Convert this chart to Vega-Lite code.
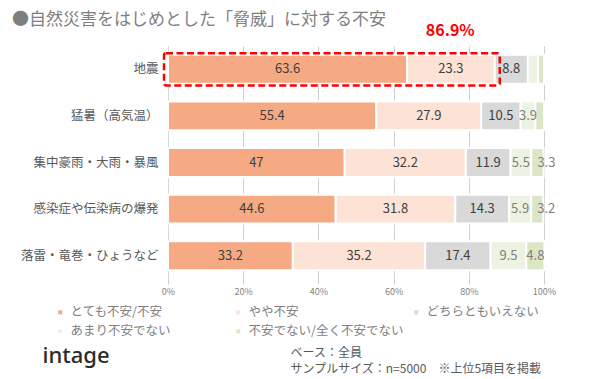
{
  "$schema": "https://vega.github.io/schema/vega-lite/v6.json",
  "width": 376,
  "height": 233,
  "autosize": "none",
  "padding": {"left": 168, "top": 46, "right": 46, "bottom": 100},
  "background": "white",
  "config": {"font": "Noto Sans CJK JP", "view": {"stroke": null}},
  "title": {
    "text": "●自然災害をはじめとした「脅威」に対する不安",
    "anchor": "start",
    "frame": "group",
    "dx": -156,
    "dy": 18,
    "offset": 4,
    "baseline": "middle",
    "fontSize": 17,
    "fontWeight": "normal",
    "color": "#7f7f7f",
    "font": "Noto Sans CJK JP"
  },
  "datasets": {
    "survey": [
      {"cat": "地震", "resp": "とても不安/不安", "order": 1, "value": 63.6},
      {"cat": "地震", "resp": "やや不安", "order": 2, "value": 23.3},
      {"cat": "地震", "resp": "どちらともいえない", "order": 3, "value": 8.8},
      {"cat": "地震", "resp": "あまり不安でない", "order": 4, "value": 2.7},
      {"cat": "地震", "resp": "不安でない/全く不安でない", "order": 5, "value": 1.6},
      {"cat": "猛暑（高気温）", "resp": "とても不安/不安", "order": 1, "value": 55.4},
      {"cat": "猛暑（高気温）", "resp": "やや不安", "order": 2, "value": 27.9},
      {"cat": "猛暑（高気温）", "resp": "どちらともいえない", "order": 3, "value": 10.5},
      {"cat": "猛暑（高気温）", "resp": "あまり不安でない", "order": 4, "value": 3.9},
      {"cat": "猛暑（高気温）", "resp": "不安でない/全く不安でない", "order": 5, "value": 2.3},
      {"cat": "集中豪雨・大雨・暴風", "resp": "とても不安/不安", "order": 1, "value": 47},
      {"cat": "集中豪雨・大雨・暴風", "resp": "やや不安", "order": 2, "value": 32.2},
      {"cat": "集中豪雨・大雨・暴風", "resp": "どちらともいえない", "order": 3, "value": 11.9},
      {"cat": "集中豪雨・大雨・暴風", "resp": "あまり不安でない", "order": 4, "value": 5.5},
      {"cat": "集中豪雨・大雨・暴風", "resp": "不安でない/全く不安でない", "order": 5, "value": 3.3},
      {"cat": "感染症や伝染病の爆発", "resp": "とても不安/不安", "order": 1, "value": 44.6},
      {"cat": "感染症や伝染病の爆発", "resp": "やや不安", "order": 2, "value": 31.8},
      {"cat": "感染症や伝染病の爆発", "resp": "どちらともいえない", "order": 3, "value": 14.3},
      {"cat": "感染症や伝染病の爆発", "resp": "あまり不安でない", "order": 4, "value": 5.9},
      {"cat": "感染症や伝染病の爆発", "resp": "不安でない/全く不安でない", "order": 5, "value": 3.2},
      {"cat": "落雷・竜巻・ひょうなど", "resp": "とても不安/不安", "order": 1, "value": 33.2},
      {"cat": "落雷・竜巻・ひょうなど", "resp": "やや不安", "order": 2, "value": 35.2},
      {"cat": "落雷・竜巻・ひょうなど", "resp": "どちらともいえない", "order": 3, "value": 17.4},
      {"cat": "落雷・竜巻・ひょうなど", "resp": "あまり不安でない", "order": 4, "value": 9.5},
      {"cat": "落雷・竜巻・ひょうなど", "resp": "不安でない/全く不安でない", "order": 5, "value": 4.8}
    ],
    "highlight": [
      {"cat": "地震", "start": 0, "end": 86.9, "label": "86.9%"}
    ]
  },
  "encoding": {
    "y": {
      "field": "cat",
      "type": "nominal",
      "scale": {
        "domain": ["地震", "猛暑（高気温）", "集中豪雨・大雨・暴風", "感染症や伝染病の爆発", "落雷・竜巻・ひょうなど"],
        "paddingInner": 0,
        "paddingOuter": 0
      },
      "axis": {
        "labelFontSize": 12.5,
        "labelColor": "#595959",
        "labelPadding": 10,
        "ticks": false,
        "domain": true,
        "domainColor": "#d9d9d9",
        "title": "intage",
        "titleX": -126,
        "titleY": 309,
        "titleAngle": 0,
        "titleAlign": "left",
        "titleBaseline": "middle",
        "titleFontSize": 22,
        "titleFontWeight": 500,
        "titleColor": "#2b2b2b",
        "titleFont": "Noto Sans"
      }
    }
  },
  "layer": [
    {
      "data": {"name": "survey"},
      "transform": [
        {"stack": "value", "groupby": ["cat"], "sort": [{"field": "order"}], "as": ["x0", "x1"]}
      ],
      "mark": {"type": "bar", "height": {"band": 0.62}, "stroke": "white", "strokeWidth": 2},
      "encoding": {
        "x": {
          "field": "x0",
          "type": "quantitative",
          "scale": {"domain": [0, 100], "nice": false},
          "axis": {
            "values": [0, 20, 40, 60, 80, 100],
            "labelExpr": "datum.value + '%'",
            "labelFlush": false,
            "grid": true,
            "gridColor": "#d0d0d0",
            "domain": false,
            "ticks": true,
            "tickColor": "#d0d0d0",
            "tickSize": 5,
            "labelFontSize": 9,
            "labelColor": "#7f7f7f",
            "labelPadding": 3,
            "title": ["ベース：全員", "サンプルサイズ：n=5000　※上位5項目を掲載"],
            "titleX": 122,
            "titleY": 68,
            "titleAlign": "left",
            "titleBaseline": "top",
            "titleFontSize": 12,
            "titleFontWeight": "normal",
            "titleColor": "#595959",
            "titleLineHeight": 16
          }
        },
        "x2": {"field": "x1"},
        "color": {
          "field": "resp",
          "type": "nominal",
          "scale": {
            "domain": ["とても不安/不安", "やや不安", "どちらともいえない", "あまり不安でない", "不安でない/全く不安でない"],
            "range": ["#F5AA83", "#FCE3D6", "#D9D9D9", "#EDF3E3", "#DAE6C6"]
          },
          "legend": {
            "orient": "none",
            "legendX": -114,
            "legendY": 260,
            "direction": "horizontal",
            "columns": 3,
            "gridAlign": "all",
            "title": null,
            "symbolType": "square",
            "symbolSize": 16,
            "symbolStrokeWidth": 0,
            "labelFontSize": 12.5,
            "labelColor": "#808080",
            "labelOffset": 4,
            "columnPadding": 6,
            "rowPadding": 6,
            "labelLimit": 300
          }
        }
      }
    },
    {
      "data": {"name": "survey"},
      "transform": [
        {"stack": "value", "groupby": ["cat"], "sort": [{"field": "order"}], "as": ["x0", "x1"]},
        {"calculate": "(datum.x0 + datum.x1) / 2", "as": "mid"},
        {"filter": "datum.order <= 3"}
      ],
      "mark": {"type": "text", "fontSize": 13, "color": "#404040", "baseline": "middle", "align": "center"},
      "encoding": {
        "x": {"field": "mid", "type": "quantitative"},
        "text": {"field": "value", "type": "quantitative"}
      }
    },
    {
      "data": {"name": "survey"},
      "transform": [
        {"stack": "value", "groupby": ["cat"], "sort": [{"field": "order"}], "as": ["x0", "x1"]},
        {"calculate": "(datum.x0 + datum.x1) / 2", "as": "mid"},
        {"filter": "datum.order >= 4 && datum.value >= 3 && !(datum.order == 5 && datum.value < 4)"}
      ],
      "mark": {"type": "text", "fontSize": 13, "color": "#808080", "baseline": "middle", "align": "center"},
      "encoding": {
        "x": {"field": "mid", "type": "quantitative"},
        "text": {"field": "value", "type": "quantitative"}
      }
    },
    {
      "data": {"name": "survey"},
      "transform": [
        {"stack": "value", "groupby": ["cat"], "sort": [{"field": "order"}], "as": ["x0", "x1"]},
        {"calculate": "(datum.x0 + datum.x1) / 2", "as": "mid"},
        {"filter": "datum.order == 5 && datum.value >= 3 && datum.value < 4"}
      ],
      "mark": {"type": "text", "fontSize": 13, "color": "#808080", "baseline": "middle", "align": "center", "dx": 9},
      "encoding": {
        "x": {"field": "mid", "type": "quantitative"},
        "text": {"field": "value", "type": "quantitative"}
      }
    },
    {
      "data": {"name": "highlight"},
      "mark": {
        "type": "bar",
        "height": {"band": 0.69},
        "fill": "white",
        "fillOpacity": 0,
        "stroke": "#FF0000",
        "strokeWidth": 2.5,
        "strokeDash": [7, 3.5],
        "cornerRadius": 2,
        "xOffset": -4,
        "x2Offset": 5
      },
      "encoding": {
        "x": {"field": "start", "type": "quantitative"},
        "x2": {"field": "end"}
      }
    },
    {
      "data": {"name": "highlight"},
      "mark": {
        "type": "text",
        "fontSize": 16,
        "fontWeight": "bold",
        "color": "#FF0000",
        "align": "right",
        "baseline": "middle",
        "dx": -20,
        "dy": -38
      },
      "encoding": {
        "x": {"field": "end", "type": "quantitative"},
        "text": {"field": "label"}
      }
    }
  ]
}
